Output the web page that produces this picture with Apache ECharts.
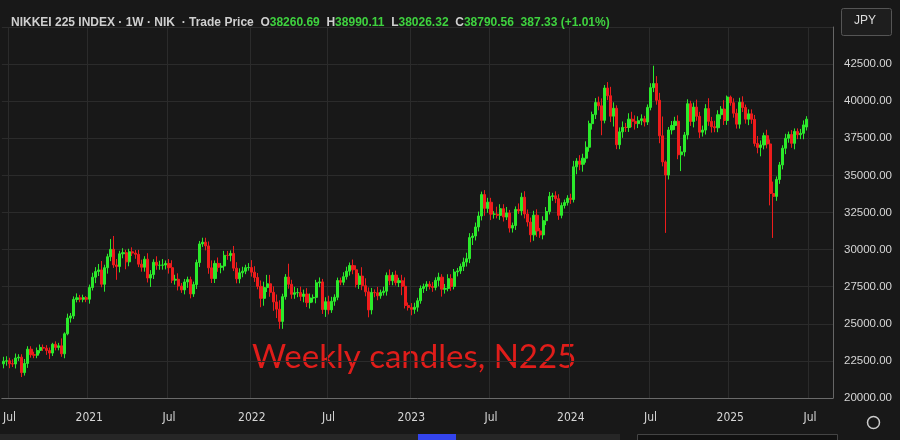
<!DOCTYPE html>
<html><head><meta charset="utf-8">
<script src="https://cdn.jsdelivr.net/npm/echarts@6/dist/echarts.min.js"></script>
<style>html,body{margin:0;padding:0;background:#181818;}#c{width:900px;height:440px;}</style>
</head><body><div id="c"></div>
<script>
// Weekly closes (week ending Friday), from 2020-06-19 to 2025-06-27
const closes2020 = [22478,22512,22306,22290,22696,22751,21710,22329,23289,22920,22882,23205,23406,23360,23204,23029,23619,23410,23516,22977,24325,25385,25527,26644,26751,26652,26763,26656];
const closes2021 = [27444,28139,28519,28631,27663,28779,29520,30018,28966,28864,29717,29792,29176,29854,29768,29683,29020,28812,29357,28084,28317,29149,28941,28948,28964,29066,28783,27940,28003,27548,27283,27820,27977,27013,27641,29128,30381,30500,30248,28771,28048,29068,28804,28892,29611,29609,29745,28751,28029,28437,28545,28782,28791];
const closes2022 = [28478,28124,27522,26717,27439,27696,27122,26476,25985,25162,26827,28149,27665,26985,27093,27105,26847,27003,26427,26739,26781,27761,27824,25963,26491,25935,26517,26788,27914,27801,28175,28547,28930,28641,27650,28214,27567,27153,25937,27116,27090,26890,27105,27199,28263,27899,28283,27777,27901,27527,26235,26094];
const closes2023 = [25973,26119,26553,27382,27509,27670,27513,27453,27927,28143,27333,27385,28041,27518,28493,28564,28856,29157,29388,30808,30916,31524,32265,33706,32781,33189,32388,32391,32304,32759,32192,32473,31450,31624,32710,32606,33533,32402,31857,30995,32315,31259,30991,31950,32568,33585,33625,33431,32307,32970,33169,33464];
const closes2024 = [33377,35577,35963,35751,36158,36897,38487,39098,39911,39689,38708,40888,40369,38992,39523,37068,37934,38236,38229,38787,38647,38488,38684,38815,38596,39583,40912,41190,40063,37667,35910,35025,38062,38364,38648,36391,36581,37724,39830,38635,39606,38982,37914,38054,39500,38642,38284,38208,39091,39470,38702,40281];
const closes2025 = [39895,39190,38451,39931,39572,38787,39149,38776,37155,36887,37053,37677,37120,33781,33586,34730,35705,36831,37503,37754,37160,37965,37742,37834,38403,38790.56];
// Upper / lower wick lengths beyond the body, in hundreds of points
const wickHi = [3,3,2,3,3,2,2,3,2,2,2,2,2,2,2,2,1,2,2,5,1,3,2,2,3,2,2,1,
 2,3,3,4,6,2,2,7,9,4,2,3,2,2,3,2,3,3,2,4,3,2,4,3,4,2,3,5,3,4,2,2,2,2,2,2,2,3,3,3,5,2,4,2,3,3,2,5,4,3,3,2,3,
 5,4,3,4,4,6,6,4,5,6,2,2,9,3,4,3,4,3,4,3,2,2,3,2,3,4,3,2,2,2,3,3,2,4,3,2,6,5,3,3,2,4,2,3,2,4,2,3,2,4,6,2,
 3,3,2,2,2,2,2,3,2,3,2,3,3,3,2,2,2,3,4,3,2,3,3,2,3,3,3,2,5,3,3,4,2,2,2,4,3,4,3,3,3,4,2,3,3,3,2,3,3,2,2,2,
 3,4,2,4,3,4,2,2,3,4,5,2,4,6,4,2,3,4,3,4,5,4,3,3,2,2,3,12,5,5,13,1,2,3,3,4,4,2,3,2,3,5,3,3,3,7,3,4,3,2,6,1,
 1,3,3,3,4,2,3,3,3,5,3,2,4,3,8,2,2,2,3,2,3,2,2,3,3,2];
const wickLo = [3,3,3,2,3,2,3,2,3,2,2,2,2,2,3,4,2,2,2,2,3,1,3,2,2,2,2,2,
 3,2,4,3,2,5,4,3,2,9,4,3,5,3,2,3,2,3,3,3,6,3,3,3,3,3,4,2,3,3,2,3,4,3,2,3,3,2,3,4,3,3,3,4,3,3,4,2,3,3,3,2,2,
 3,3,2,6,5,3,3,6,6,5,5,2,3,3,3,3,3,4,3,4,3,4,3,3,5,3,2,3,2,2,2,2,3,3,2,3,3,3,5,3,3,3,2,2,3,3,3,2,3,6,2,2,
 4,3,3,2,3,3,2,3,2,4,5,3,2,3,2,3,2,3,3,3,5,3,3,3,5,3,4,3,2,3,3,2,3,3,3,2,3,3,3,5,4,4,2,3,3,2,3,3,3,2,2,2,
 3,2,5,4,5,3,3,4,3,3,10,2,3,4,7,3,3,4,3,3,4,4,3,3,3,2,2,3,3,5,3,39,3,3,3,3,11,3,3,3,4,3,4,3,3,3,4,3,3,3,3,3,
 2,3,3,3,3,3,4,3,2,4,6,3,3,8,28,3,3,3,4,3,3,4,3,3,4,3];
const firstOpen = 22300;
const lastBar = {o:38260.69, h:38990.11, l:38026.32, c:38790.56};
const yTicks = {min:20000, max:45000, step:2500};
const padWeeks = 8;

const closes = [].concat(closes2020,closes2021,closes2022,closes2023,closes2024,closes2025);
const n = closes.length;
const dates = [], data = [];
const start = Date.UTC(2020,5,19);
for (let i=0;i<n+padWeeks;i++){ dates.push(new Date(start+i*7*86400000)); }
for (let i=0;i<n;i++){
  let o = i===0?firstOpen:closes[i-1], c = closes[i];
  let h = Math.max(o,c)+wickHi[i]*100, l = Math.min(o,c)-wickLo[i]*100;
  if (i===n-1){o=lastBar.o;c=lastBar.c;h=lastBar.h;l=lastBar.l;}
  data.push([o,c,l,h]);
}
const cats = dates.map(d=>d.toISOString().slice(0,10));
function isMark(idx){
  const d = dates[idx]; if(!d) return false;
  return (d.getUTCMonth()===0||d.getUTCMonth()===6) && d.getUTCDate()<=7;
}
function lab(v){
  const d = new Date(v+'T00:00:00Z');
  return d.getUTCMonth()===6?'Jul':String(d.getUTCFullYear());
}
const chart = echarts.init(document.getElementById('c'));
const g = '#3fd23f', w = '#cfcfcf';
const ff = '"Liberation Sans", Arial';
chart.setOption({
  backgroundColor:'#181818',
  animation:false,
  title:{
    left:6, top:12,
    text:'{a|NIKKEI 225 INDEX · 1W · NIK  · Trade Price  O}{b|38260.69}{a|  H}{b|38990.11}{a|  L}{b|38026.32}{a|  C}{b|38790.56  387.33 (+1.01%)}',
    textStyle:{rich:{
      a:{color:w,fontSize:12,fontFamily:ff},
      b:{color:g,fontSize:12,fontFamily:ff}
    }}
  },
  grid:{left:0,right:67,top:27,bottom:42},
  xAxis:{
    type:'category', data:cats, boundaryGap:true,
    axisLine:{show:true,lineStyle:{color:'#6a6a6a'}},
    axisTick:{show:false},
    axisLabel:{interval:(i)=>isMark(i), formatter:lab, color:'#d6d6d6', fontSize:12, margin:14, fontFamily:'"DejaVu Sans Condensed", "Liberation Sans", Arial'},
    splitLine:{show:true, interval:(i)=>isMark(i), lineStyle:{color:'#2b2b2b'}}
  },
  yAxis:{
    type:'value', position:'right', min:yTicks.min, max:yTicks.max, interval:yTicks.step,
    axisLine:{show:true,lineStyle:{color:'#666'}},
    axisTick:{show:false},
    axisLabel:{color:'#d6d6d6', fontSize:11.5, margin:11, fontFamily:ff,
      formatter:(v)=> v>=yTicks.max?'':v.toFixed(2)},
    splitLine:{lineStyle:{color:'#2b2b2b'}}
  },
  series:[{
    type:'candlestick', data:data, barWidth:2.6,
    itemStyle:{color:'#2bea2b',color0:'#ee1c1c',borderColor:'#2bea2b',borderColor0:'#ee1c1c',borderWidth:1},
    markLine:{
      silent:true, symbol:'none', animation:false,
      lineStyle:{opacity:0},
      data:[{yAxis:lastBar.c}],
      label:{position:'end', distance:3, formatter:lastBar.c.toFixed(2), backgroundColor:'#27d427',
        color:'#0a0a0a', fontSize:12, padding:[3,5,3,5], fontFamily:ff}
    }
  }],
  graphic:[
    {type:'text', left:252, top:341, style:{text:'Weekly candles, N225', fill:'#e01d1a', font:'33px Lato, "Open Sans", sans-serif'}},
    {type:'rect', right:8, top:8, shape:{width:50,height:27,r:2}, style:{fill:'#1e1e1e',stroke:'#555'}},
    {type:'text', right:24, top:15, style:{text:'JPY', fill:'#ddd', font:'12px "Liberation Sans", Arial'}},
    {type:'circle', left:865, top:414, shape:{r:6}, style:{fill:'none',stroke:'#ccc',lineWidth:1.5}},
    {type:'rect', left:0, top:434, shape:{width:620,height:6}, style:{fill:'#262626'}},
    {type:'rect', left:418, top:434, shape:{width:38,height:6}, style:{fill:'#3344ee'}},
    {type:'rect', left:637, top:434, shape:{width:200,height:6}, style:{fill:'#111',stroke:'#444'}}
  ]
});
</script></body></html>
